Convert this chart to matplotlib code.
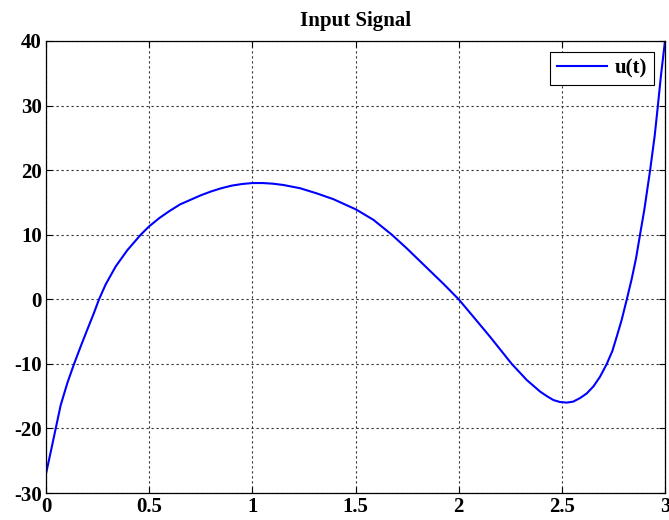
import numpy as np
import matplotlib
matplotlib.use('Agg')
import matplotlib.pyplot as plt

# sampled input signal u(t)
t = [0.0, 0.025, 0.047, 0.071, 0.103, 0.136, 0.168, 0.2, 0.23, 0.257, 0.289,
     0.338, 0.394, 0.459, 0.5, 0.55, 0.6, 0.65, 0.7, 0.75, 0.8, 0.85, 0.9,
     0.95, 1.0, 1.05, 1.1, 1.15, 1.231, 1.312, 1.393, 1.503, 1.587, 1.676,
     1.748, 1.845, 1.926, 2.0, 2.071, 2.152, 2.257, 2.33, 2.395, 2.43, 2.459,
     2.49, 2.524, 2.555, 2.588, 2.62, 2.653, 2.685, 2.718, 2.745, 2.766,
     2.79, 2.815, 2.839, 2.86, 2.879, 2.9, 2.928, 2.95, 2.964, 2.98, 3.0]
u = [-27.0, -23.3, -20.0, -16.4, -13.0, -10.0, -7.3, -4.7, -2.3, 0.0, 2.3,
     5.1, 7.6, 10.0, 11.3, 12.6, 13.7, 14.7, 15.4, 16.1, 16.7, 17.2, 17.6,
     17.85, 18.0, 18.0, 17.9, 17.7, 17.2, 16.4, 15.5, 13.9, 12.3, 10.0,
     7.9, 4.9, 2.4, 0.0, -2.7, -5.8, -10.0, -12.5, -14.3, -15.05, -15.6,
     -15.9, -16.0, -15.85, -15.3, -14.6, -13.5, -12.0, -10.0, -8.0, -5.8,
     -3.2, 0.0, 3.2, 6.4, 10.0, 13.9, 20.0, 25.3, 29.5, 34.5, 40.0]

xticks = [0, 0.5, 1, 1.5, 2, 2.5, 3]
xlabels = ['0', '0.5', '1', '1.5', '2', '2.5', '3']
yticks = [-30, -20, -10, 0, 10, 20, 30, 40]

plt.rcParams['font.family'] = 'Liberation Serif'
plt.rcParams['font.weight'] = 'bold'
plt.rcParams['axes.unicode_minus'] = False

fig = plt.figure(figsize=(6.69, 5.2), dpi=100)
ax = fig.add_axes([0.0688, 0.0519, 0.9252, 0.8693])

ax.plot(t, u, color='#0000ff', linewidth=1.5, label='u(t)')

ax.set_xlim(0, 3)
ax.set_ylim(-30, 40)
ax.set_xticks(xticks)
ax.set_xticklabels(xlabels)
ax.set_yticks(yticks)
ax.tick_params(direction='in', length=4, width=0.8, top=True, right=True,
               labelsize=15, pad=3)
for s in ax.spines.values():
    s.set_linewidth(0.9)
    s.set_color('black')

ax.grid(True, color='0.2', linestyle=(0, (2, 2.5)), linewidth=0.8)
ax.set_axisbelow(True)

ax.set_title('Input Signal', fontsize=15, fontweight='bold', pad=11)

leg = ax.legend(loc='upper right', fancybox=False, framealpha=1,
                edgecolor='black', fontsize=15, handlelength=2.4,
                borderaxespad=0.55, borderpad=0.3, handletextpad=0.4)
leg.get_frame().set_linewidth(0.8)

plt.savefig('out.png', dpi=100)
